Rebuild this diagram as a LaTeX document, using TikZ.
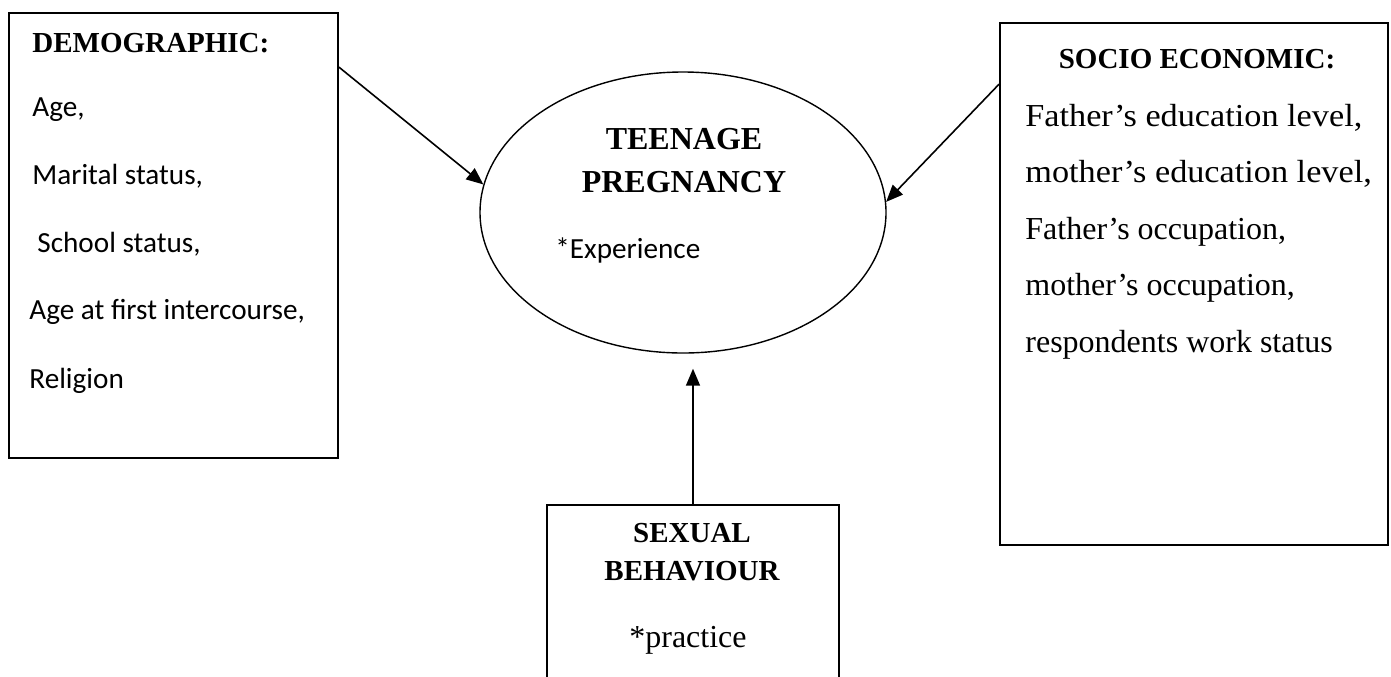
\documentclass[tikz,border=0pt]{standalone}
\usepackage{fontspec}
\setmainfont{Liberation Serif}
\newfontfamily\calibri{Carlito}
\newfontfamily\wideserif[FakeStretch=1.07]{Liberation Serif}
\usetikzlibrary{shapes.geometric,arrows.meta}

\begin{document}
\begin{tikzpicture}[x=0.5pt,y=-0.5pt,
   every node/.style={inner sep=0pt},
   box/.style={draw,line width=0.9pt,rectangle},
   head/.style={anchor=base,font=\fontsize{14.5}{17}\selectfont\bfseries},
   serif/.style={anchor=base west,font=\fontsize{16}{19}\selectfont},
   wide/.style={anchor=base west,font=\fontsize{16}{19}\selectfont\wideserif},
   sans/.style={anchor=base west,font=\fontsize{14.6}{18}\selectfont\calibri},
   link/.style={line width=0.8pt,-{Triangle[length=8.5pt,width=7pt]}}]
   \useasboundingbox (0,0) rectangle (1391,676);
   % left box
   \node [box,minimum width=164.5pt,minimum height=222.5pt] (demo) at (173.5,235.5) {};
   \node [head,anchor=base west] (demohead) at (32,52) {DEMOGRAPHIC:};
   \node [sans] (age) at (32,116) {Age,};
   \node [sans] (marital) at (32,184) {Marital status,};
   \node [sans] (school) at (37,252) {School status,};
   \node [sans] (first) at (29,319) {Age at first intercourse,};
   \node [sans] (religion) at (29,388) {Religion};
   % centre
   \node [draw,ellipse,line width=0.7pt,minimum width=203pt,minimum height=140.5pt] (preg) at (683,212.5) {};
   \node [head,font=\fontsize{16}{19}\selectfont\bfseries] (teen) at (684,149) {TEENAGE};
   \node [head,font=\fontsize{16}{19}\selectfont\bfseries] (pregtxt) at (684,192) {PREGNANCY};
   \node [sans] (exper) at (555,258) {*Experience};
   % right box
   \node [box,minimum width=194pt,minimum height=261pt] (socio) at (1194,284) {};
   \node [head] (sociohead) at (1197,68) {SOCIO ECONOMIC:};
   \node [wide] (fedu) at (1025,126) {Father’s education level,};
   \node [wide] (medu) at (1025,182) {mother’s education level,};
   \node [serif] (focc) at (1025,239) {Father’s occupation,};
   \node [serif] (mocc) at (1025,295) {mother’s occupation,};
   \node [serif] (work) at (1025,352) {respondents work status};
   % bottom box
   \node [box,minimum width=146pt,minimum height=97.5pt] (sex) at (693,602.5) {};
   \node [head] (sexhead) at (692,542) {SEXUAL};
   \node [head] (behav) at (692,580) {BEHAVIOUR};
   \node [serif,anchor=base] (pract) at (688,647) {*practice};
   % arrows
   \draw [link] ([yshift=-27.5pt]demo.north east) -- (preg.172);
   \draw [link] ([yshift=-31pt]socio.north west) -- (preg.3);
   \draw [link,shorten >=7.5pt] (sex.north) -- (sex.north |- preg.south);
\end{tikzpicture}
\end{document}
